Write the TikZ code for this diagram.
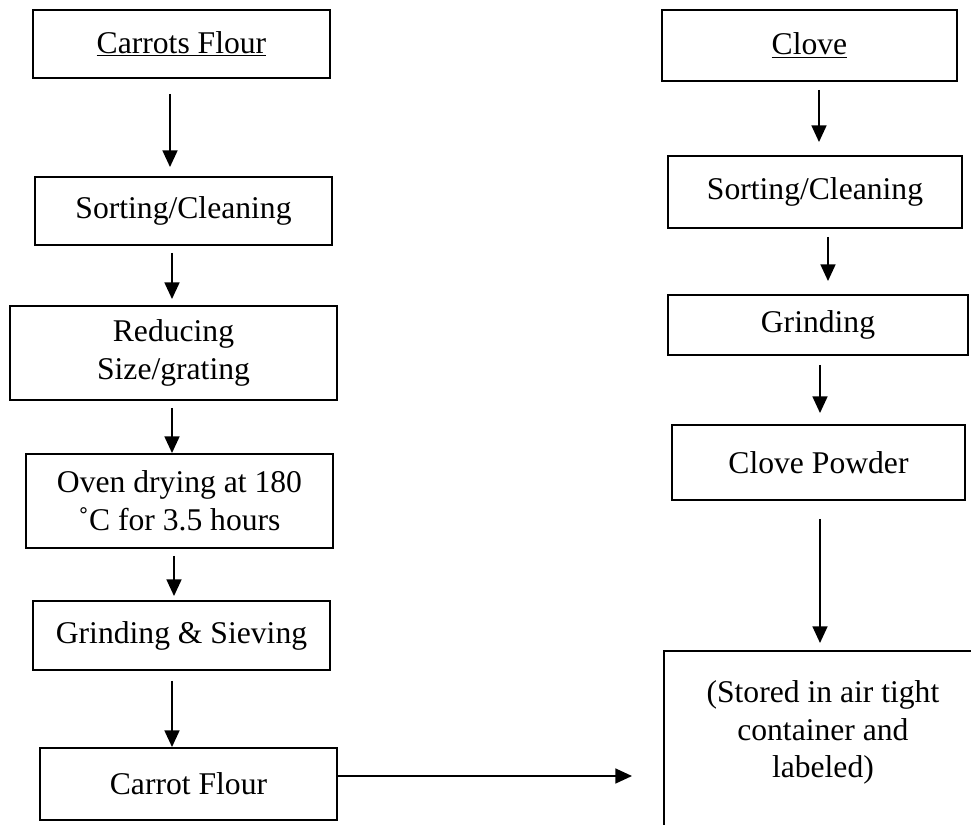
\documentclass[tikz,border=0pt]{standalone}
\usepackage{fontspec}
\setmainfont{Liberation Serif}
\usepackage{tikz}
\usetikzlibrary{arrows.meta,positioning,calc}

\begin{document}
\begin{tikzpicture}[x=0.02cm,y=-0.02cm,
  font=\fontsize{18}{21.5}\selectfont,
  stepbox/.style={draw,line width=1.1pt,align=center,inner sep=0pt},
  flow/.style={-{Triangle[length=9.5pt,width=8.5pt]},line width=1.1pt}]
  \useasboundingbox (0,0) rectangle (971,825);
  \clip (0,0) rectangle (971,825);
  \node[stepbox,minimum width=5.94cm,minimum height=1.36cm] (carrots) at (181.5,44) {\underline{Carrots Flour}};
  \node[stepbox,minimum width=5.94cm,minimum height=1.36cm] (sortL) at (183.5,211) {Sorting/Cleaning};
  \node[stepbox,minimum width=6.54cm,minimum height=1.88cm] (reduce) at (173.5,353) {Reducing\\Size/grating};
  \node[stepbox,minimum width=6.14cm,minimum height=1.88cm] (oven) at (179.5,501) {Oven drying at 180\\˚C for 3.5 hours};
  \node[stepbox,minimum width=5.94cm,minimum height=1.38cm] (sieve) at (181.5,635.5) {Grinding \& Sieving};
  \node[stepbox,minimum width=5.94cm,minimum height=1.44cm] (cflour) at (188.5,784) {Carrot Flour};
  \node[stepbox,minimum width=5.9cm,minimum height=1.42cm] (clove) at (809.5,45.5) {\underline{Clove}};
  \node[stepbox,minimum width=5.88cm,minimum height=1.44cm] (sortR) at (815,192) {Sorting/Cleaning};
  \node[stepbox,minimum width=6cm,minimum height=1.2cm] (grind) at (818,325) {Grinding};
  \node[stepbox,minimum width=5.86cm,minimum height=1.5cm] (powder) at (818.5,462.5) {Clove Powder};
  \node[stepbox,anchor=north west,minimum width=6.36cm,text height=2.54cm,text depth=2.6cm] (store) at (663,650)
    {(Stored in air tight\\container and\\labeled)};
  \draw[flow,shorten <=0.3cm,shorten >=0.18cm] (carrots.south -| 170,0) -- (sortL.north -| 170,0);
  \draw[flow,shorten <=0.14cm,shorten >=0.12cm] (sortL.south -| 172,0) -- (reduce.north -| 172,0);
  \draw[flow,shorten <=0.14cm] (reduce.south -| 172,0) -- (oven.north -| 172,0);
  \draw[flow,shorten <=0.14cm,shorten >=0.08cm] (oven.south -| 174,0) -- (sieve.north -| 174,0);
  \draw[flow,shorten <=0.2cm] (sieve.south -| 172,0) -- (cflour.north -| 172,0);
  \draw[flow,shorten >=0.62cm] (cflour.east |- 0,776) -- (store.west |- 0,776);
  \draw[flow,shorten <=0.16cm,shorten >=0.26cm] (clove.south -| 819,0) -- (sortR.north -| 819,0);
  \draw[flow,shorten <=0.16cm,shorten >=0.26cm] (sortR.south -| 828,0) -- (grind.north -| 828,0);
  \draw[flow,shorten <=0.18cm,shorten >=0.22cm] (grind.south -| 820,0) -- (powder.north -| 820,0);
  \draw[flow,shorten <=0.36cm,shorten >=0.14cm] (powder.south -| 820,0) -- (store.north -| 820,0);
\end{tikzpicture}
\end{document}
